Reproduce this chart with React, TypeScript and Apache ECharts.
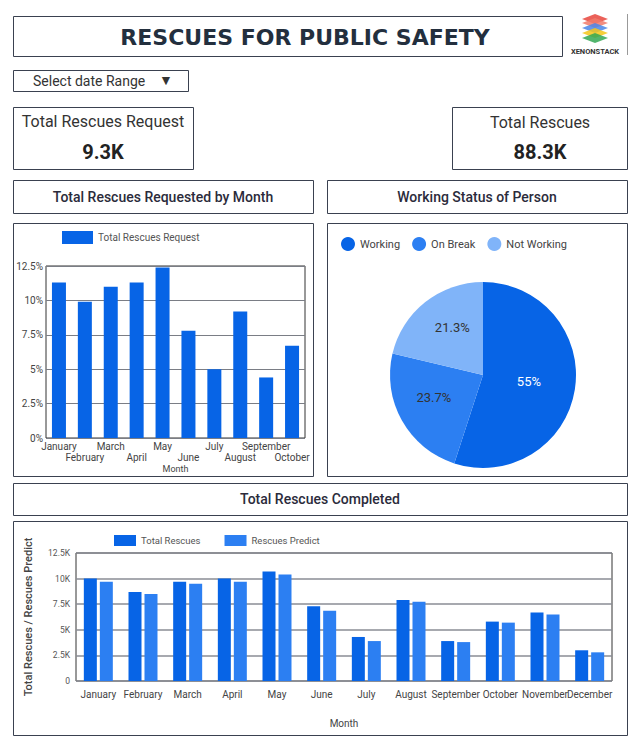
import React, { useEffect, useRef } from "react";
import * as echarts from "echarts";

const requestMonths = ["January", "February", "March", "April", "May", "June", "July", "August", "September", "October"];
const requestPercent = [11.3, 9.9, 11.0, 11.3, 12.4, 7.8, 5.0, 9.2, 4.4, 6.7];

const statusNames = ["Working", "On Break", "Not Working"];
const statusPercent = [55, 23.7, 21.3];

const allMonths = ["January", "February", "March", "April", "May", "June", "July", "August", "September", "October", "November", "December"];
const totalRescues = [10000, 8700, 9700, 10000, 10700, 7300, 4300, 7900, 3900, 5800, 6700, 3000];
const rescuesPredict = [9700, 8500, 9500, 9700, 10400, 6850, 3900, 7750, 3800, 5700, 6500, 2800];

const kpiRequest = "9.3K";
const kpiTotal = "88.3K";

const C_DARK = "#0764E6";
const C_MID = "#2C7FF2";
const C_LIGHT = "#80B4F9";
const BORDER = "#3a4150";
const FONT = "Roboto";

function box(x: number, y: number, w: number, h: number) {
  return {
    type: "rect",
    shape: { x: x + 0.5, y: y + 0.5, width: w, height: h },
    style: { fill: "none", stroke: BORDER, lineWidth: 1 },
    silent: true,
  };
}

function txt(x: number, y: number, text: string, size: number, weight: any, color: string, align = "center", family = FONT) {
  return {
    type: "text",
    x,
    y,
    style: { text, fontSize: size, fontWeight: weight, fill: color, fontFamily: family, align, verticalAlign: "middle" },
    silent: true,
  };
}

function diamond(cx: number, cy: number, hw: number, hh: number, color: string) {
  return {
    type: "polygon",
    shape: { points: [[cx - hw, cy], [cx, cy - hh], [cx + hw, cy], [cx, cy + hh]] },
    style: { fill: color, opacity: 0.85 },
    silent: true,
  };
}

const labelOffsets = [[-3, -1], [-6, -2], [0, -9]];

export default function App() {
  const ref = useRef<HTMLDivElement>(null);
  useEffect(() => {
    if (!ref.current) return;
    const chart = echarts.init(ref.current, null, { renderer: "svg" });
    const option: any = {
      animation: false,
      backgroundColor: "#ffffff",
      textStyle: { fontFamily: FONT },
      graphic: [
        box(13, 16, 549, 40),
        txt(305, 37, "RESCUES FOR PUBLIC SAFETY", 22, "bold", "#232f3e", "center", "DejaVu Sans"),
        diamond(595, 19, 13, 5, "#e8453c"),
        diamond(595, 23, 13, 5, "#f07a6a"),
        diamond(595, 28, 13, 5, "#4a86e8"),
        diamond(595, 33, 13, 5, "#f5c518"),
        diamond(595, 38, 13, 5, "#34a853"),
        txt(595, 51, "XENONSTACK", 7.5, "bold", "#333"),
        { type: "line", shape: { x1: 627.5, y1: 14, x2: 627.5, y2: 55 }, style: { stroke: "#999", lineWidth: 1 }, silent: true },
        box(13, 70, 175, 21),
        txt(33, 81, "Select date Range", 14, "normal", "#333", "left"),
        txt(166, 80, "▼", 14, "normal", "#333"),
        box(13, 107, 180, 62),
        txt(103, 121, "Total Rescues Request", 16, "normal", "#333"),
        txt(103, 152, kpiRequest, 20, "bold", "#222"),
        box(452, 107, 175, 62),
        txt(540, 122, "Total Rescues", 16, "normal", "#333"),
        txt(540, 152, kpiTotal, 20, "bold", "#222"),
        box(13, 180, 300, 33),
        txt(163, 197, "Total Rescues Requested by Month", 14, 500, "#2b2b3b"),
        box(327, 180, 300, 33),
        txt(477, 197, "Working Status of Person", 14, 500, "#2b2b3b"),
        box(13, 223, 300, 253),
        box(327, 223, 300, 253),
        box(13, 483, 614, 32),
        txt(320, 499, "Total Rescues Completed", 14, 500, "#2b2b3b"),
        box(13, 521, 614, 214),
      ],
      legend: [
        {
          data: ["Total Rescues Request"],
          left: 62,
          top: 231,
          padding: 0,
          itemWidth: 31,
          itemHeight: 13,
          icon: "rect",
          textStyle: { fontSize: 10, color: "#555", fontFamily: FONT },
        },
        {
          data: statusNames,
          left: 341,
          top: 237,
          padding: 0,
          icon: "circle",
          itemWidth: 14,
          itemHeight: 14,
          itemGap: 12,
          textStyle: { fontSize: 11, color: "#444", fontFamily: FONT },
        },
        {
          data: ["Total Rescues", "Rescues Predict"],
          left: 114,
          top: 535,
          padding: 0,
          icon: "rect",
          itemWidth: 22,
          itemHeight: 11,
          itemGap: 24,
          textStyle: { fontSize: 9.5, color: "#555", fontFamily: FONT },
        },
      ],
      grid: [
        { left: 46, top: 266, width: 259, height: 172, show: true, borderColor: "#333", borderWidth: 1, backgroundColor: "transparent" },
        { left: 76, top: 553, width: 536, height: 128, show: true, borderColor: "#333", borderWidth: 1, backgroundColor: "transparent" },
      ],
      xAxis: [
        {
          type: "category",
          gridIndex: 0,
          data: requestMonths,
          axisLine: { show: false },
          axisTick: { show: false },
          axisLabel: {
            interval: 0,
            fontSize: 10,
            color: "#444",
            margin: 3,
            lineHeight: 11,
            formatter: (v: string, i: number) => (i % 2 === 1 ? "\n" + v : v),
          },
          name: "Month",
          nameLocation: "middle",
          nameGap: 26,
          nameTextStyle: { fontSize: 9, color: "#444" },
        },
        {
          type: "category",
          gridIndex: 1,
          data: allMonths,
          axisLine: { show: false },
          axisTick: { show: false },
          axisLabel: { interval: 0, fontSize: 10, color: "#444", margin: 8 },
          name: "Month",
          nameLocation: "middle",
          nameGap: 37,
          nameTextStyle: { fontSize: 10, color: "#444" },
        },
      ],
      yAxis: [
        {
          type: "value",
          gridIndex: 0,
          min: 0,
          max: 12.5,
          interval: 2.5,
          axisLine: { show: false },
          axisTick: { show: false },
          axisLabel: { fontSize: 10, color: "#444", margin: 3, formatter: (v: number) => v + "%" },
          splitLine: { lineStyle: { color: "#7a7d85", width: 1 } },
        },
        {
          type: "value",
          gridIndex: 1,
          min: 0,
          max: 12500,
          interval: 2500,
          axisLine: { show: false },
          axisTick: { show: false },
          axisLabel: { fontSize: 8.5, color: "#555", margin: 6, formatter: (v: number) => (v === 0 ? "0" : v / 1000 + "K") },
          splitLine: { lineStyle: { color: "#8a8d95", width: 1.5 } },
          name: "Total Rescues / Rescues Predict",
          nameLocation: "middle",
          nameRotate: 90,
          nameGap: 42,
          nameTextStyle: { fontSize: 11, color: "#444", fontWeight: 500 },
        },
      ],
      series: [
        {
          name: "Total Rescues Request",
          type: "bar",
          xAxisIndex: 0,
          yAxisIndex: 0,
          data: requestPercent,
          barWidth: 14,
          itemStyle: { color: C_DARK },
        },
        {
          name: "Working Status",
          type: "pie",
          center: [483, 375],
          radius: 93,
          startAngle: 90,
          clockwise: true,
          data: statusNames.map((n, i) => ({
            name: n,
            value: statusPercent[i],
            itemStyle: { color: [C_DARK, C_MID, C_LIGHT][i] },
            label: { color: i === 0 ? "#fff" : "#333", offset: labelOffsets[i] },
          })),
          label: { show: true, position: "inside", fontSize: 13, fontFamily: FONT, formatter: (p: any) => p.value + "%" },
          labelLine: { show: false },
        },
        {
          name: "Total Rescues",
          type: "bar",
          xAxisIndex: 1,
          yAxisIndex: 1,
          data: totalRescues,
          barWidth: 13,
          barGap: "23%",
          itemStyle: { color: C_DARK },
        },
        {
          name: "Rescues Predict",
          type: "bar",
          xAxisIndex: 1,
          yAxisIndex: 1,
          data: rescuesPredict,
          barWidth: 13,
          barGap: "23%",
          itemStyle: { color: C_MID },
        },
      ],
    };
    chart.setOption(option);
    return () => chart.dispose();
  }, []);
  return <div ref={ref} style={{ position: "absolute", left: 0, top: 0, width: 640, height: 750 }} />;
}
